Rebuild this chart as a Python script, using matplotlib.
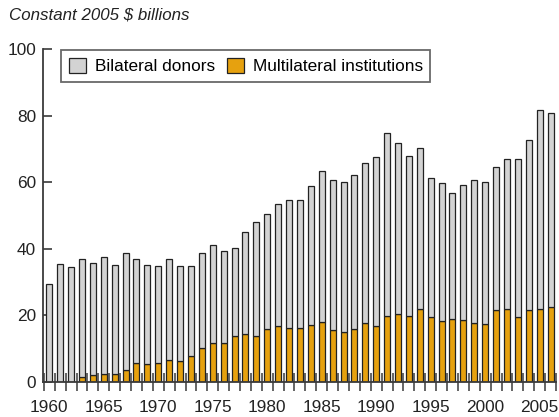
import matplotlib
matplotlib.use("Agg")
import matplotlib.pyplot as plt
import numpy as np

plt.rcParams['font.family'] = ['Liberation Sans', 'DejaVu Sans']

years = list(range(1960, 2007))
total = [29.5, 35.4, 34.6, 36.8, 35.6, 37.5, 35.2, 38.6, 36.9, 35.0,
         34.9, 37.0, 34.9, 34.9, 38.6, 41.2, 39.2, 40.3, 44.9, 48.1,
         50.5, 53.4, 54.7, 54.7, 58.8, 63.4, 60.6, 60.2, 62.3, 65.9,
         67.6, 74.7, 71.9, 68.0, 70.4, 61.3, 59.7, 56.9, 59.2, 60.8,
         60.2, 64.6, 66.9, 67.1, 72.8, 81.6, 80.8]
multilateral = [0.0, 0.0, 0.0, 1.4, 2.0, 2.3, 2.3, 3.5, 5.6, 5.4,
                5.8, 6.5, 6.2, 7.9, 10.2, 11.7, 11.8, 13.8, 14.5, 13.8,
                15.8, 16.7, 16.3, 16.2, 17.0, 17.9, 15.5, 15.1, 15.9, 17.7,
                16.8, 19.8, 20.4, 19.7, 21.9, 19.4, 18.4, 18.9, 18.7, 17.7,
                17.3, 21.6, 21.9, 19.6, 21.6, 21.9, 22.6]
bilateral = [t - m for t, m in zip(total, multilateral)]
xtick_labels = ['1960', '1965', '1970', '1975', '1980', '1985', '1990', '1995', '2000', '2005']
yticks = [0, 20, 40, 60, 80, 100]

grey = '#d3d3d3'
orange = '#e6a10f'
edge = '#222222'
spine_c = '#3a3a3a'

fig = plt.figure(figsize=(5.59, 4.17), dpi=100)
ax = fig.add_axes([43/559, 35/417, 513/559, 333/417])

ax.bar(years, multilateral, width=0.55, color=orange, edgecolor=edge, linewidth=0.9,
       label='Multilateral institutions', zorder=2)
ax.bar(years, bilateral, width=0.55, bottom=multilateral, color=grey, edgecolor=edge,
       linewidth=0.9, label='Bilateral donors', zorder=2)

ax.set_xlim(1959.42, 2006.5)
ax.set_ylim(0, 100)

for s in ['top', 'right']:
    ax.spines[s].set_visible(False)
for s in ['left', 'bottom']:
    ax.spines[s].set_color(spine_c)
    ax.spines[s].set_linewidth(1.3)
    ax.spines[s].set_zorder(3)

ax.set_yticks(yticks)
ax.set_yticklabels([str(v) for v in yticks])
ax.tick_params(axis='y', direction='in', length=6.5, width=1.2, color=spine_c,
               labelsize=12.4, pad=5, labelcolor='#222222')

ax.set_xticks([y + 0.5 for y in range(1959, 2007)])
ax.set_xticklabels([])
ax.tick_params(axis='x', which='major', direction='inout', length=13, width=1.1,
               color=spine_c, zorder=1)
ax.set_xticks([int(l) for l in xtick_labels], minor=True)
ax.set_xticklabels(xtick_labels, minor=True)
ax.tick_params(axis='x', which='minor', length=0, labelsize=12.4, pad=13,
               labelcolor='#222222')

handles, labels = ax.get_legend_handles_labels()
leg = ax.legend(handles[::-1], labels[::-1], loc='upper left',
                bbox_to_anchor=((61-43)/513, 0.997), borderaxespad=0,
                ncol=2, fontsize=12.4, frameon=True, fancybox=False,
                handlelength=1.0, handleheight=1.0, handletextpad=0.5,
                columnspacing=0.7, borderpad=0.45)
leg.get_frame().set_edgecolor('#444444')
leg.get_frame().set_linewidth(1.3)

fig.text(9/559, 1 - 15/417, 'Constant 2005 $ billions', fontsize=12.2, style='italic',
         ha='left', va='center', color='#222222')

fig.savefig('out.png', dpi=100)
